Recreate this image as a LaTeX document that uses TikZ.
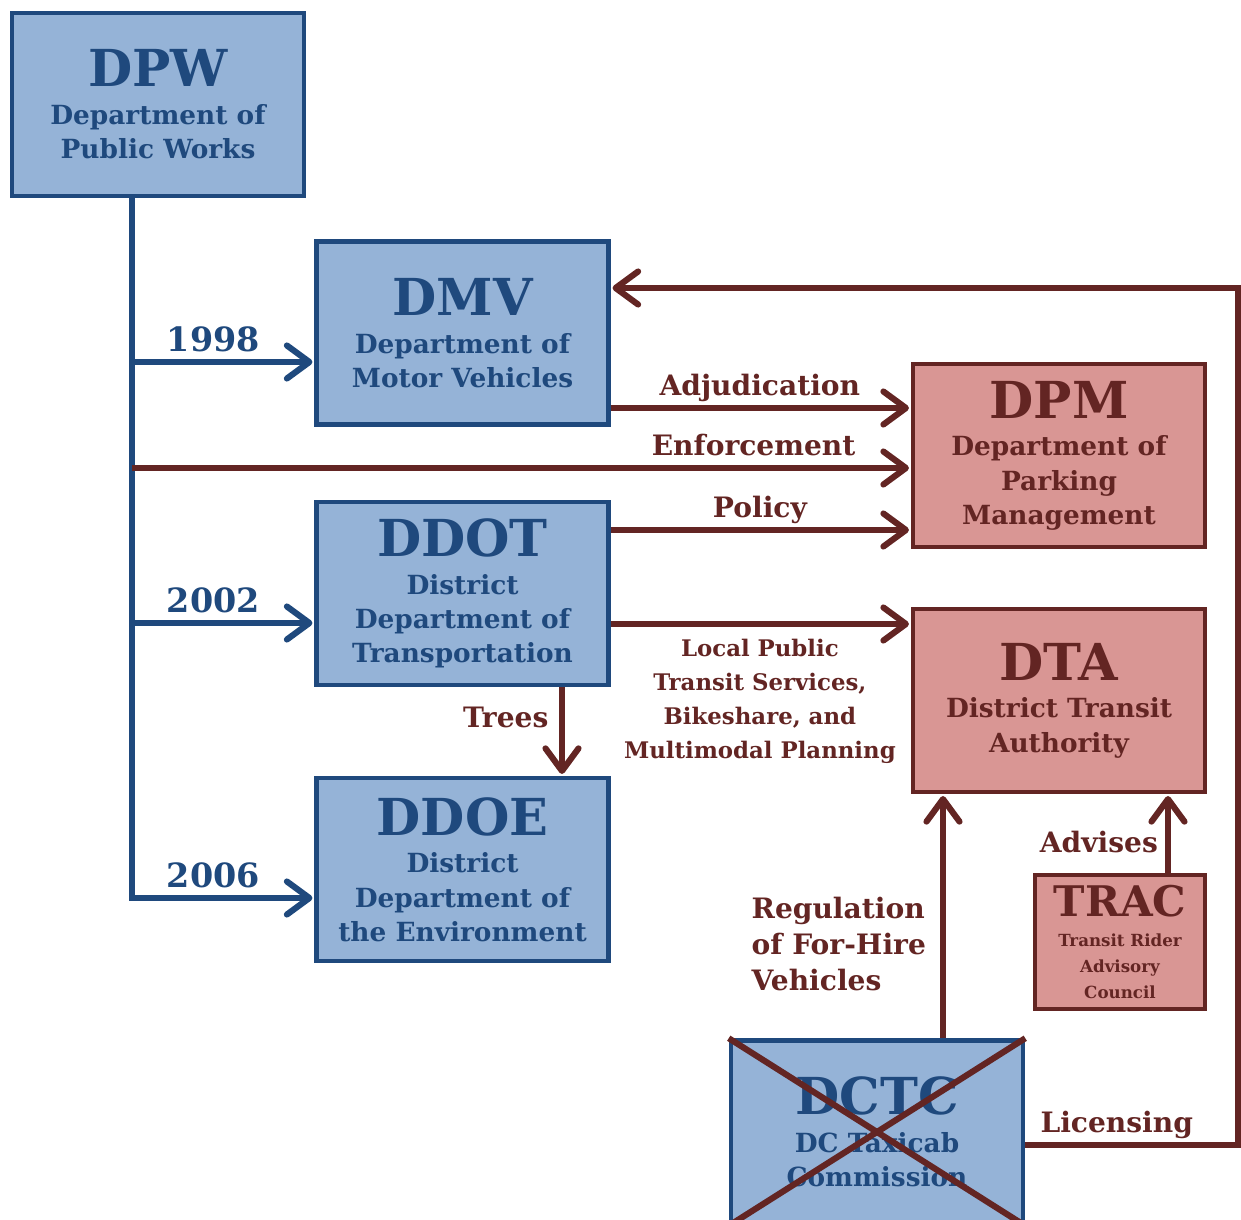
\documentclass[tikz,border=0pt]{standalone}
\usepackage{fontspec}
\setmainfont{DejaVu Serif}
\usetikzlibrary{arrows.meta}
\usetikzlibrary{positioning}

\definecolor{bluefill}{HTML}{95B3D7}
\definecolor{blueline}{HTML}{1F497D}
\definecolor{redfill}{HTML}{D99694}
\definecolor{redline}{HTML}{632523}

\newcommand{\boxtitle}{\fontsize{29}{32}\selectfont}
\newcommand{\boxsub}{\fontsize{15}{19.5}\selectfont}
\newcommand{\edgelabel}{\fontsize{16}{20.4}\selectfont}
\newcommand{\yearlabel}{\fontsize{19}{22}\selectfont}
\newcommand{\smalllabel}{\fontsize{13}{19.3}\selectfont}
\newcommand{\tinysub}{\fontsize{9.5}{14.9}\selectfont}

\tikzset{
  bluebox/.style={draw=blueline, fill=bluefill, line width=2.6pt, text=blueline,
    minimum width=5.84cm, minimum height=3.66cm, align=center, inner sep=0pt,
    font=\bfseries\boxsub},
  redbox/.style={bluebox, draw=redline, fill=redfill, text=redline},
  bluearrow/.style={draw=blueline, line width=3.5pt,
    -{Straight Barb[length=0.45cm,width=0.66cm,round]}},
  redarrow/.style={bluearrow, draw=redline},
  redlabel/.style={text=redline, font=\bfseries\edgelabel, inner sep=3pt},
  bluelabel/.style={text=blueline, font=\bfseries\yearlabel, inner sep=3pt, text depth=0.15em},
  onelabel/.style={redlabel, text depth=0.24em}
}

\begin{document}
\begin{tikzpicture}[x=0.02cm,y=-0.02cm]
  \clip (0,0) rectangle (1241,1220);

  % blue boxes
  \node[bluebox] (DPW) at (158,104.5) {{\boxtitle DPW}\\[2pt]Department of\\Public Works};
  \node[bluebox] (DMV) at (462.5,333) {{\boxtitle DMV}\\[2pt]Department of\\Motor Vehicles};
  \node[bluebox] (DDOT) at (462.5,593.5) {{\boxtitle DDOT}\\[2pt]District\\Department of\\Transportation};
  \node[bluebox] (DDOE) at (462.5,869.5) {{\boxtitle DDOE}\\[2pt]District\\Department of\\the Environment};
  \node[bluebox] (DCTC) at (877,1132) {{\boxtitle DCTC}\\[2pt]DC Taxicab\\Commission};

  % red boxes
  \node[redbox] (DPM) at (1059,455.5) {{\boxtitle DPM}\\[2pt]Department of\\Parking\\Management};
  \node[redbox] (DTA) at (1059,700.5) {{\boxtitle DTA}\\[2pt]District Transit\\Authority};
  \node[redbox, minimum width=3.4cm, minimum height=2.68cm, font=\bfseries\tinysub] (TRAC) at (1120,942)
    {{\fontsize{24}{26}\selectfont TRAC}\\[2pt]Transit Rider\\Advisory\\Council};

  % DPW branches
  \coordinate (y98) at (132,362);
  \coordinate (y02) at (132,623);
  \coordinate (y06) at (132,898);
  \draw[bluearrow] (DPW.south -| y06) -- (y06) -- node[bluelabel, above, pos=0.45] (l06) {2006} ([xshift=-1pt]DDOE.west |- y06);
  \draw[bluearrow] (y98) -- node[bluelabel, above, pos=0.45] (l98) {1998} ([xshift=-1pt]DMV.west |- y98);
  \draw[bluearrow] (y02) -- node[bluelabel, above, pos=0.45] (l02) {2002} ([xshift=-1pt]DDOT.west |- y02);

  % into DPM
  \coordinate (adj) at (0,408);
  \coordinate (enf) at (132,468);
  \coordinate (pol) at (0,530);
  \draw[redarrow] (DMV.east |- adj) -- node[onelabel, above] (adjlbl) {Adjudication} ([xshift=-1pt]DPM.west |- adj);
  \draw[redarrow] (enf) -- node[onelabel, above, pos=0.8] (enflbl) {Enforcement} ([xshift=-1pt]DPM.west |- enf);
  \draw[redarrow] (DDOT.east |- pol) -- node[onelabel, above] (pollbl) {Policy} ([xshift=-1pt]DPM.west |- pol);

  % into DTA
  \coordinate (loc) at (0,624);
  \draw[redarrow] (DDOT.east |- loc) -- node[redlabel, below=4pt, align=center, font=\bfseries\smalllabel] (loclbl)
    {Local Public\\Transit Services,\\Bikeshare, and\\Multimodal Planning} ([xshift=-1pt]DTA.west |- loc);
  \coordinate (trees) at (562,0);
  \draw[redarrow] (DDOT.south -| trees) -- node[redlabel, left=3pt, pos=0.35] (treelbl) {Trees} ([yshift=1pt]DDOE.north -| trees);
  \coordinate (reg) at (943,0);
  \draw[redarrow] (DCTC.north -| reg) -- node[redlabel, left=5pt, align=left, pos=0.39] (reglbl)
    {Regulation\\of For-Hire\\Vehicles} ([yshift=-1pt]DTA.south -| reg);
  \coordinate (adv) at (1168,0);
  \draw[redarrow] (TRAC.north -| adv) -- node[redlabel, left=1pt, pos=0.4] (advlbl) {Advises} ([yshift=-1pt]DTA.south -| adv);

  % licensing loop
  \coordinate (lic) at (1238,1145);
  \coordinate (lictop) at (1238,288);
  \draw[redarrow] (DCTC.east |- lic) -- node[onelabel, above, pos=0.43] (liclbl) {Licensing} (lic) -- (lictop) -- ([xshift=1pt]DMV.east |- lictop);

  % DCTC crossed out
  \draw[draw=redline, line width=3.5pt] (DCTC.north west) -- (DCTC.south east);
  \draw[draw=redline, line width=3.5pt] (DCTC.north east) -- (DCTC.south west);
\end{tikzpicture}
\end{document}
